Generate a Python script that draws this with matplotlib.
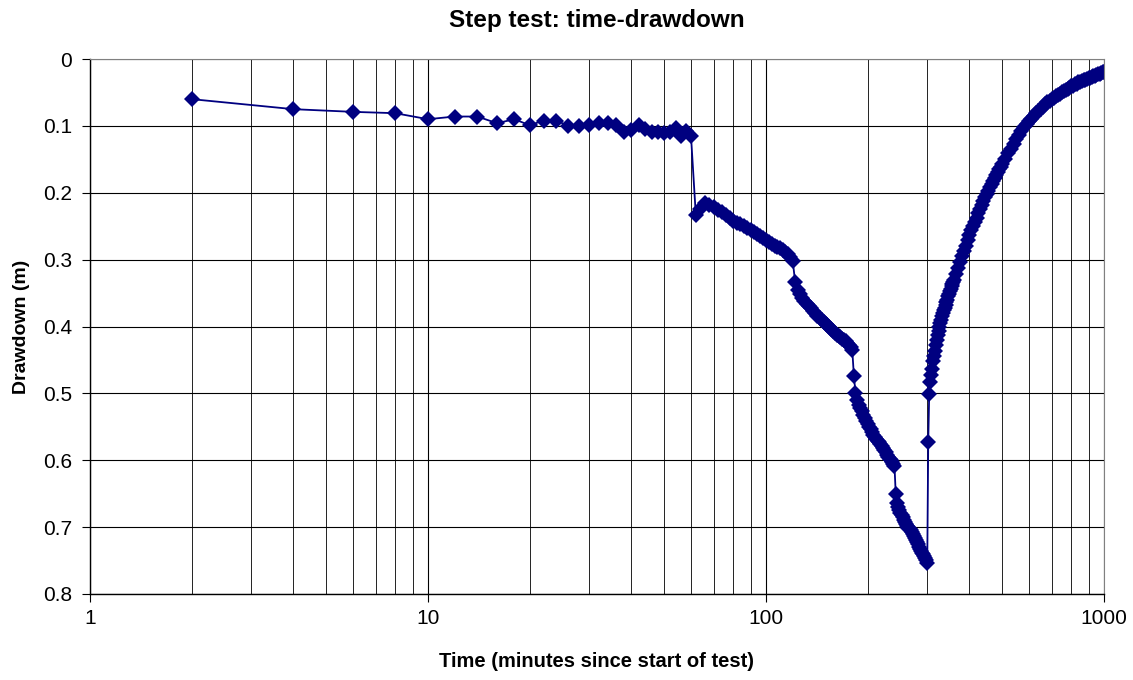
import matplotlib
matplotlib.use("Agg")
import matplotlib.pyplot as plt
from matplotlib.ticker import FixedLocator, FuncFormatter, LogLocator, NullFormatter

plt.rcParams['font.family'] = ['Liberation Sans', 'DejaVu Sans']

# step 1 (2 - 60 min)
t_step1 = [2, 4, 6, 8, 10, 12, 14, 16, 18, 20, 22, 24, 26, 28, 30,
           32, 34, 36, 38, 40, 42, 44, 46, 48, 50, 52, 54, 56, 58, 60]
s_step1 = [0.060, 0.075, 0.079, 0.081, 0.090, 0.086, 0.086, 0.096, 0.090, 0.099,
           0.092, 0.092, 0.100, 0.100, 0.099, 0.096, 0.096, 0.098, 0.109, 0.106,
           0.099, 0.105, 0.109, 0.109, 0.110, 0.109, 0.103, 0.115, 0.107, 0.115]

# step 2 (62 - 120 min)
t_step2 = [62, 64, 66, 68, 70, 72, 74, 76, 78, 80, 82, 84, 86, 88, 90,
           92, 94, 96, 98, 100, 102, 104, 106, 108, 110, 112, 114, 116, 118, 120]
s_step2 = [0.233, 0.224, 0.216, 0.219, 0.222, 0.226, 0.229, 0.233, 0.237, 0.242,
           0.245, 0.247, 0.250, 0.253, 0.256, 0.259, 0.262, 0.265, 0.268, 0.271,
           0.273, 0.276, 0.279, 0.281, 0.283, 0.286, 0.289, 0.292, 0.296, 0.302]

# step 3 (122 - 180 min)
t_step3 = [122, 124, 126, 128, 130, 132, 134, 136, 138, 140, 142, 144, 146, 148, 150,
           152, 154, 156, 158, 160, 162, 164, 166, 168, 170, 172, 174, 176, 178, 180]
s_step3 = [0.334, 0.345, 0.352, 0.358, 0.362, 0.366, 0.369, 0.373, 0.377, 0.380,
           0.384, 0.388, 0.391, 0.394, 0.396, 0.398, 0.400, 0.403, 0.406, 0.409,
           0.412, 0.414, 0.416, 0.418, 0.420, 0.422, 0.424, 0.427, 0.430, 0.435]

# step 4 (182 - 240 min)
t_step4 = [182, 184, 186, 188, 190, 192, 194, 196, 198, 200, 202, 204, 206, 208, 210,
           212, 214, 216, 218, 220, 222, 224, 226, 228, 230, 232, 234, 236, 238, 240]
s_step4 = [0.474, 0.499, 0.510, 0.517, 0.522, 0.527, 0.532, 0.537, 0.542, 0.546,
           0.550, 0.554, 0.558, 0.562, 0.565, 0.568, 0.571, 0.573, 0.576, 0.579,
           0.582, 0.585, 0.588, 0.592, 0.595, 0.598, 0.600, 0.603, 0.606, 0.609]

# step 5 (242 - 300 min)
t_step5 = [242, 244, 246, 248, 250, 252, 254, 256, 258, 260, 262, 264, 266, 268, 270,
           272, 274, 276, 278, 280, 282, 284, 286, 288, 290, 292, 294, 296, 298, 300]
s_step5 = [0.650, 0.664, 0.670, 0.675, 0.679, 0.682, 0.685, 0.689, 0.692, 0.696,
           0.699, 0.701, 0.703, 0.705, 0.708, 0.711, 0.714, 0.717, 0.720, 0.723,
           0.726, 0.729, 0.732, 0.735, 0.738, 0.740, 0.743, 0.746, 0.749, 0.753]

# recovery (pump off at 300 min)
t_recovery = [302, 304, 306, 308, 310, 312, 314, 316, 318, 320, 322, 324, 326, 328, 330,
              332, 334, 336, 338, 340, 342, 344, 346, 348, 350, 352, 354, 356, 358, 360,
              365, 370, 375, 380, 385, 390, 395, 400, 405, 410, 415, 420, 425, 430, 435,
              440, 445, 450, 455, 460, 465, 470, 475, 480, 485, 490, 495, 500,
              510, 520, 530, 540, 550, 560, 570, 580, 590, 600, 610, 620, 630, 640, 650,
              660, 670, 680, 690, 700, 710, 720, 730, 740, 750, 760, 770, 780, 790, 800,
              810, 820, 830, 840, 850, 860, 870, 880, 890, 900, 910, 920, 930, 940, 950,
              960, 970, 980, 990, 1000]
s_recovery = [0.573, 0.501, 0.483, 0.472, 0.463, 0.452, 0.444, 0.436, 0.428, 0.420,
              0.413, 0.406, 0.400, 0.395, 0.390, 0.385, 0.380, 0.376, 0.372, 0.368,
              0.364, 0.360, 0.355, 0.351, 0.347, 0.344, 0.340, 0.337, 0.333, 0.330,
              0.321, 0.312, 0.303, 0.295, 0.287, 0.279, 0.271, 0.263, 0.256, 0.249,
              0.243, 0.237, 0.231, 0.225, 0.219, 0.213, 0.207, 0.202, 0.197, 0.192,
              0.187, 0.183, 0.178, 0.174, 0.169, 0.165, 0.161, 0.157,
              0.149, 0.141, 0.134, 0.127, 0.120, 0.113, 0.107, 0.101, 0.097, 0.093,
              0.089, 0.085, 0.081, 0.077, 0.074, 0.071, 0.068, 0.065, 0.063, 0.060,
              0.058, 0.056, 0.054, 0.052, 0.050, 0.048, 0.046, 0.045, 0.043, 0.041,
              0.040, 0.038, 0.037, 0.035, 0.034, 0.033, 0.032, 0.031, 0.030, 0.029,
              0.028, 0.027, 0.026, 0.025, 0.024, 0.023, 0.022, 0.021, 0.020, 0.019]

time = t_step1 + t_step2 + t_step3 + t_step4 + t_step5 + t_recovery
drawdown = s_step1 + s_step2 + s_step3 + s_step4 + s_step5 + s_recovery

fig = plt.figure(figsize=(11.33, 6.8), dpi=100)
ax = fig.add_axes([0.0794, 0.1265, 0.8950, 0.7867])

ax.plot(time, drawdown, marker='D', markersize=8.5, color='#000080',
        linewidth=1.3, markeredgewidth=0)

ax.set_xscale('log')
ax.set_xlim(1, 1000)
ax.set_ylim(0.8, 0)

ax.xaxis.set_major_locator(FixedLocator([1, 10, 100, 1000]))
ax.xaxis.set_major_formatter(FuncFormatter(lambda v, p: '%d' % v))
ax.xaxis.set_minor_locator(LogLocator(base=10, subs=range(2, 10)))
ax.xaxis.set_minor_formatter(NullFormatter())
ax.set_yticks([0, 0.1, 0.2, 0.3, 0.4, 0.5, 0.6, 0.7, 0.8])
ax.yaxis.set_major_formatter(FuncFormatter(lambda v, p: '%g' % v))

ax.grid(True, which='major', axis='both', color='black', linewidth=0.8)
ax.grid(True, which='minor', axis='x', color='#222222', linewidth=0.7)

ax.tick_params(axis='both', which='major', direction='out', length=6,
               width=0.8, labelsize=15, pad=7)
ax.tick_params(axis='x', which='minor', length=0)
ax.tick_params(axis='x', which='major', pad=5)

ax.spines['top'].set_color('#808080')
ax.spines['right'].set_color('#808080')
for side in ['left', 'bottom']:
    ax.spines[side].set_color('black')
    ax.spines[side].set_linewidth(1.0)

ax.set_title('Step test: time-drawdown', fontsize=17.5, fontweight='bold', pad=23)
ax.set_xlabel('Time (minutes since start of test)', fontsize=14.5, fontweight='bold',
              labelpad=17)
ax.set_ylabel('Drawdown (m)', fontsize=14, fontweight='bold', labelpad=9)

fig.savefig('out.png', dpi=100)
